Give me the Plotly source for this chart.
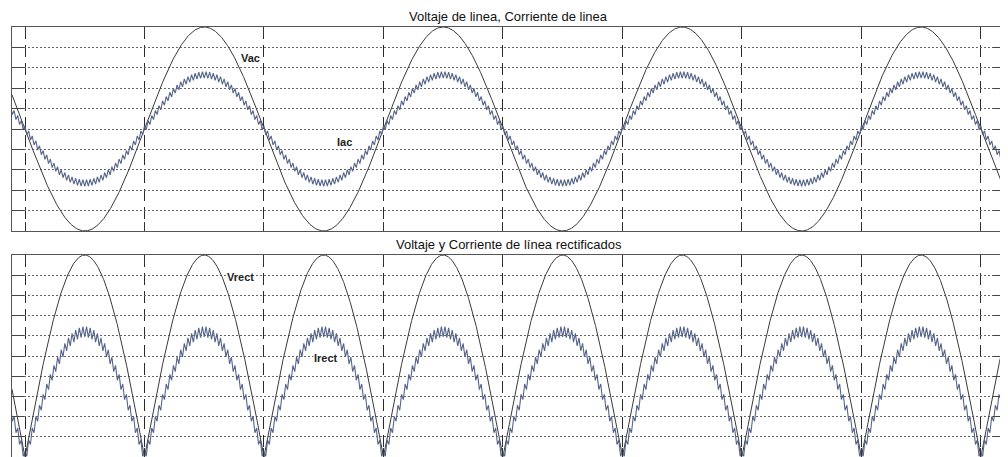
import numpy as np
import plotly.graph_objects as go

# ---- values ----
line_freq_hz = 60.0            # line frequency (vertical grid = half periods)
teeth_per_half_cycle = 33      # switching ripple teeth per half cycle
t_range_ms = [-0.907, 68.35]   # visible time window (ms)

vac_peak = 1.0
iac_peak = 0.53
iac_ripple = 0.032

vrect_peak = 1.0
irect_peak = 0.62
irect_ripple = 0.026

top_title = "Voltaje de linea, Corriente de linea"
bottom_title = "Voltaje y Corriente de línea rectificados"
labels_top = ["Vac", "Iac"]
labels_bottom = ["Vrect", "Irect"]

# ---- waveform sampling ----
half_ms = 1000.0 / line_freq_hz / 2.0
w = np.pi / half_ms
t_smooth = np.linspace(t_range_ms[0], t_range_ms[1], 3000)
vac = -vac_peak * np.sin(w * t_smooth)
vrect = np.abs(vac) * vrect_peak / vac_peak

step = half_ms / teeth_per_half_cycle / 2.0
k0 = int(np.floor(t_range_ms[0] / step))
k1 = int(np.ceil(t_range_ms[1] / step))
k = np.arange(k0, k1 + 1)
t_rip = k * step
sign = np.where(k % 2 == 0, 1.0, -1.0)
iac = -iac_peak * np.sin(w * t_rip) + iac_ripple * sign
irect = irect_peak * np.abs(np.sin(w * t_rip)) + irect_ripple * sign

fig = go.Figure()
vcol = "#3a3a3a"
icol = "#55658a"
fig.add_trace(go.Scatter(x=t_smooth, y=vac, mode="lines", line=dict(color=vcol, width=1),
                         xaxis="x", yaxis="y", showlegend=False, hoverinfo="skip"))
fig.add_trace(go.Scatter(x=t_rip, y=iac, mode="lines", line=dict(color=icol, width=1.1),
                         xaxis="x", yaxis="y", showlegend=False, hoverinfo="skip"))
fig.add_trace(go.Scatter(x=t_smooth, y=vrect, mode="lines", line=dict(color=vcol, width=1),
                         xaxis="x2", yaxis="y2", showlegend=False, hoverinfo="skip"))
fig.add_trace(go.Scatter(x=t_rip, y=irect, mode="lines", line=dict(color=icol, width=1.1),
                         xaxis="x2", yaxis="y2", showlegend=False, hoverinfo="skip"))

# page has an 8px body margin: figure drawn at (8,8)
OFF = 8
H = 457.0 - OFF
W = 1008 - OFF
xcommon = dict(range=t_range_ms, tick0=0, dtick=half_ms, showticklabels=False,
               showgrid=True, gridcolor="#2a2a2a", griddash="12px,6px", gridwidth=1,
               zeroline=False, showline=True, linecolor="#555555", linewidth=1,
               mirror="ticks", ticks="inside", ticklen=9, tickcolor="#333333")
ycommon = dict(showticklabels=False, showgrid=True, gridcolor="#666666", griddash="2px,2px",
               gridwidth=1, zeroline=False, showline=True, linecolor="#555555", linewidth=1,
               mirror="ticks", ticks="inside", ticklen=12, tickcolor="#444444")

fig.update_layout(
    width=W, height=int(H),
    margin=dict(l=12 - OFF, r=3, t=0, b=0),
    paper_bgcolor="white", plot_bgcolor="white",
    xaxis=dict(domain=[0, 1], anchor="y", **xcommon),
    yaxis=dict(domain=[1 - (231 - OFF) / H, 1 - (27 - OFF) / H], anchor="x", range=[-1, 1],
               dtick=0.2, tick0=0, **ycommon),
    xaxis2=dict(domain=[0, 1], anchor="y2", **xcommon),
    yaxis2=dict(domain=[0, 1 - (255 - OFF) / H], anchor="x2", range=[0, 1.0], dtick=0.1,
                tick0=0, **ycommon),
    font=dict(family="Liberation Sans, Arial, sans-serif"),
)

ann = []
ann.append(dict(text=top_title, xref="paper", yref="paper", x=0.5, y=1.0,
                showarrow=False, font=dict(size=13, color="#111111"), yanchor="top", borderpad=0))
ann.append(dict(text=bottom_title, xref="paper", yref="paper", x=0.5, y=1 - (244 - OFF) / H,
                showarrow=False, font=dict(size=13, color="#111111"), yanchor="middle"))

def px_to_t(px):
    return (px - 25) / 119.5 * half_ms

lab_font = dict(size=11, color="#222222", family="Liberation Sans, Arial, sans-serif")
ann.append(dict(text="<b>%s</b>" % labels_top[0], x=px_to_t(251), y=(129 - 58) / 102, xref="x", yref="y",
                showarrow=False, bgcolor="white", borderpad=0, font=lab_font))
ann.append(dict(text="<b>%s</b>" % labels_top[1], x=px_to_t(345), y=(129 - 142) / 102, xref="x", yref="y",
                showarrow=False, bgcolor="white", borderpad=0, font=lab_font))
ann.append(dict(text="<b>%s</b>" % labels_bottom[0], x=px_to_t(241), y=(457 - 277) / 202, xref="x2", yref="y2",
                showarrow=False, bgcolor="white", borderpad=0, font=lab_font))
ann.append(dict(text="<b>%s</b>" % labels_bottom[1], x=px_to_t(326), y=(457 - 358) / 202, xref="x2", yref="y2",
                showarrow=False, bgcolor="white", borderpad=0, font=lab_font))
fig.update_layout(annotations=ann)

fig.write_html("out.html")
